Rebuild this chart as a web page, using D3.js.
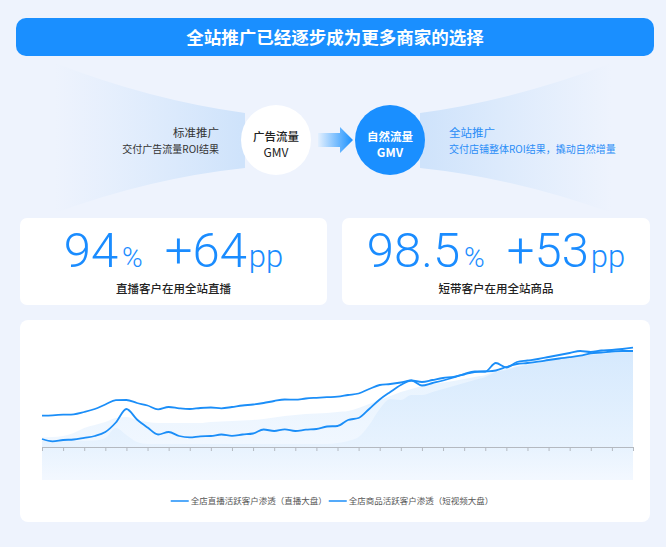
<!DOCTYPE html>
<html><head><meta charset="utf-8">
<script src="https://cdn.jsdelivr.net/npm/d3@7"></script>
<style>
html,body{margin:0;padding:0;background:#eef3fd;}
svg{display:block;font-family:"Noto Sans CJK SC","Noto Sans",sans-serif;}
</style>
</head><body>
<svg id="c" width="666" height="547"></svg>
<script>
const titleText = "全站推广已经逐步成为更多商家的选择";
const flowLeft = ["标准推广", "交付广告流量ROI结果"];
const flowRight = ["全站推广", "交付店铺整体ROI结果，撬动自然增量"];
const circleLabels = [["广告流量", "GMV"], ["自然流量", "GMV"]];
const statValues = ["94", "98.5"];
const statDeltas = ["+64", "+53"];
const statLabels = ["直播客户在用全站直播", "短带客户在用全站商品"];
const seriesNames = ["全店直播活跃客户渗透（直播大盘）", "全店商品活跃客户渗透（短视频大盘）"];

// line series (estimated, arbitrary % scale)
const seriesLive = [31.3,31.7,32.3,32.7,35,38,42.5,46.8,47,44,41.5,37.7,40,38.7,38,39,39.5,38.7,40,41.5,
  42.5,44,46,47.5,47.3,48.5,49.2,49.8,50.3,52,53.5,58,62,63,64.5,66.5,65,67,69,70.2,
  72.5,75,75.5,76.5,80,83,84,85.3,87,88.5,89.8,91.3,93.7,94.5,95.5,96,96];
const seriesGoods = [8,5.7,7,7.5,9.2,11,15,24.5,38,27.5,19.5,12.5,15,11,9.7,10.7,11,12.5,11.2,12.5,
  13.5,17.5,16,17.7,16,17.3,18,20.5,21,27,29,38,47.5,55,62,66.5,61.5,64,66.5,69.5,
  73,75.5,75.5,84,79.5,85,86.5,88,90,92,94,96,95,96.5,97,98,99.3];
// decorative background areas
const bgLight = [9.5,10,11,14,19,22,25,29,30,27,25,24,24,24,24,24,25,25.5,26,26.5,
  27,28,29.5,31,32,33,33.5,34,35,36,39,43,47,51,55,58,61,63,64.5,66,
  68,70,72,76,78,81,83,85,87,88.5,90,91.5,93,94,94.5,95,95.5];
const bgDark = [6,6,6,6,6,6.5,9,19,12,5,3,3,3,3,3,3,3,3,3,3,
  3,3,3,3,3,3,3,3,4,6,10,22,38,48,47,52,52,55,58,61,
  64,67,70,75,77,80,82,84,86,88,89.5,91,92,93,94,94.5,95];

const svg = d3.select("#c");
const defs = svg.append("defs");

// ---------- header ----------
svg.append("rect").attr("x",16).attr("y",18).attr("width",638).attr("height",38).attr("rx",10).attr("fill","#1a8fff");
svg.append("text").attr("x",335).attr("y",44).attr("text-anchor","middle").attr("fill","#fff")
  .attr("font-size",17.5).attr("font-weight",700).text(titleText);

// ---------- fans ----------
const gL = defs.append("linearGradient").attr("id","fanL").attr("gradientUnits","userSpaceOnUse")
  .attr("x1",55).attr("x2",240).attr("y1",0).attr("y2",0);
gL.append("stop").attr("offset",0).attr("stop-color","#d3e6fc").attr("stop-opacity",0);
gL.append("stop").attr("offset",1).attr("stop-color","#cfe3fb").attr("stop-opacity",1);
const gR = defs.append("linearGradient").attr("id","fanR").attr("gradientUnits","userSpaceOnUse")
  .attr("x1",425).attr("x2",612).attr("y1",0).attr("y2",0);
gR.append("stop").attr("offset",0).attr("stop-color","#cfe3fb").attr("stop-opacity",1);
gR.append("stop").attr("offset",1).attr("stop-color","#d3e6fc").attr("stop-opacity",0);
svg.append("path").attr("d","M55,63 Q150,100 245,113 L245,168 Q150,178 55,213 Z").attr("fill","url(#fanL)");
svg.append("path").attr("d","M420,113 Q515,100 612,63 L612,213 Q515,178 420,168 Z").attr("fill","url(#fanR)");

// arrow
const ga = defs.append("linearGradient").attr("id","arr").attr("x1",0).attr("x2",1).attr("y1",0).attr("y2",0);
ga.append("stop").attr("offset",0).attr("stop-color","#e4f0fe");
ga.append("stop").attr("offset",1).attr("stop-color","#1890ff");
svg.append("path").attr("d","M318,133 L340,133 L340,127 L353,140 L340,153 L340,147 L318,147 Z").attr("fill","url(#arr)");

// circles
svg.append("circle").attr("cx",276).attr("cy",140).attr("r",35).attr("fill","#fff");
svg.append("circle").attr("cx",390).attr("cy",140).attr("r",35).attr("fill","#1a8fff");
[[276,"#222",500],[390,"#fff",700]].forEach((c,i)=>{
  svg.append("text").attr("x",c[0]).attr("y",141).attr("text-anchor","middle").attr("fill",c[1])
    .attr("font-size",11.5).attr("font-weight",c[2]).text(circleLabels[i][0]);
  svg.append("text").attr("x",c[0]).attr("y",157).attr("text-anchor","middle").attr("fill",c[1])
    .attr("font-size",12).attr("font-weight",c[2]===700?600:400).text(circleLabels[i][1]);
});
svg.append("text").attr("x",219).attr("y",137).attr("text-anchor","end").attr("fill","#333").attr("font-size",11.5).text(flowLeft[0]);
svg.append("text").attr("x",219).attr("y",153).attr("text-anchor","end").attr("fill","#333").attr("font-size",10).text(flowLeft[1]);
svg.append("text").attr("x",449).attr("y",137).attr("fill","#2a8df7").attr("font-size",11.5).text(flowRight[0]);
svg.append("text").attr("x",449).attr("y",153).attr("fill","#2a8df7").attr("font-size",10).text(flowRight[1]);

// ---------- stat cards ----------
const cards = [{x:20,w:307},{x:342,w:308}];
cards.forEach((c,i)=>{
  svg.append("rect").attr("x",c.x).attr("y",218).attr("width",c.w).attr("height",87).attr("rx",7).attr("fill","#fff");
  const t = svg.append("text").attr("x",c.x+c.w/2).attr("y",267).attr("text-anchor","middle")
    .attr("fill","#1a8cff").attr("font-family","Roboto, 'Noto Sans', sans-serif").attr("font-weight",300);
  t.append("tspan").attr("font-size",49).text(statValues[i]);
  t.append("tspan").attr("font-size",28).attr("dx",4).text("%");
  t.append("tspan").attr("font-size",49).attr("dx",22).text(statDeltas[i]);
  t.append("tspan").attr("font-size",31).attr("dx",2).text("pp");
  svg.append("text").attr("x",c.x+c.w/2).attr("y",293).attr("text-anchor","middle").attr("fill","#222")
    .attr("font-size",11.5).attr("font-weight",500).text(statLabels[i]);
});

// ---------- chart card ----------
svg.append("rect").attr("x",20).attr("y",320).attr("width",630).attr("height",202).attr("rx",8).attr("fill","#fff");

const N = seriesLive.length;
const x = d3.scaleLinear().domain([0, N-1]).range([42, 633]);
const y = d3.scaleLinear().domain([0, 100]).range([447, 347]);
const bottomVal = -33;

const gA = defs.append("linearGradient").attr("id","areaDark").attr("gradientUnits","userSpaceOnUse")
  .attr("x1",0).attr("x2",0).attr("y1",347).attr("y2",480);
gA.append("stop").attr("offset",0).attr("stop-color","#d2e7fd");
gA.append("stop").attr("offset",0.75).attr("stop-color","#e6f2fe");
gA.append("stop").attr("offset",1).attr("stop-color","#f3f8ff");
const gB = defs.append("linearGradient").attr("id","areaLight").attr("gradientUnits","userSpaceOnUse")
  .attr("x1",0).attr("x2",0).attr("y1",347).attr("y2",480);
gB.append("stop").attr("offset",0).attr("stop-color","#e6f2fe");
gB.append("stop").attr("offset",1).attr("stop-color","#f4f9ff");

const area = d3.area().x((d,i)=>x(i)).y0(y(bottomVal)).y1(d=>y(d)).curve(d3.curveMonotoneX);
svg.append("path").datum(bgLight).attr("d",area).attr("fill","url(#areaLight)");
svg.append("path").datum(bgDark).attr("d",area).attr("fill","url(#areaDark)").attr("opacity",0.85);

// axis
const axis = d3.axisBottom(x).tickValues(d3.range(0, N, 2)).tickSize(4).tickSizeOuter(0).tickFormat("");
const ag = svg.append("g").attr("transform",`translate(0,${y(0)})`).call(axis);
ag.selectAll("path,line").attr("stroke","#b4b9c0");

// lines
const line = d3.line().x((d,i)=>x(i)).y(d=>y(d)).curve(d3.curveMonotoneX);
[seriesLive, seriesGoods].forEach(s=>{
  svg.append("path").datum(s).attr("d",line).attr("fill","none").attr("stroke","#1b8ef8")
    .attr("stroke-width",1.8).attr("stroke-linejoin","round");
});

// legend
const lg = svg.append("g");
let lx = 0;
seriesNames.forEach((n,i)=>{
  lg.append("line").attr("x1",lx).attr("x2",lx+18).attr("y1",0).attr("y2",0).attr("stroke","#1b8ef8").attr("stroke-width",1.5);
  const t = lg.append("text").attr("x",lx+20).attr("y",3).attr("font-size",8.5).attr("fill","#555").text(n);
  lx += 20 + t.node().getComputedTextLength() + 2;
});
lg.attr("transform",`translate(${333 - lx/2},501)`);
</script>
</body></html>
